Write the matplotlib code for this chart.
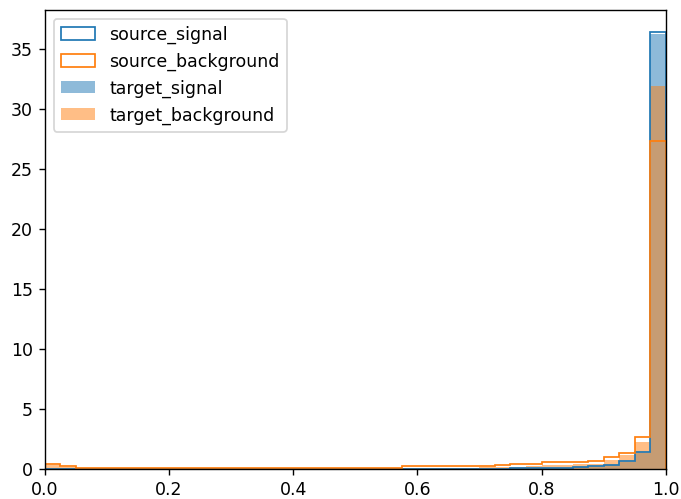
import numpy as np
import matplotlib.pyplot as plt

# 40 equal bins over [0, 1], density per bin
edges = np.linspace(0, 1, 41)
centers = (edges[:-1] + edges[1:]) / 2

# bins 0.0 .. 0.55 (23 bins) then 0.575 .. 0.975 (17 bins)
source_signal = [0.0] * 30 + [0.07, 0.08, 0.10, 0.12, 0.15, 0.23, 0.36, 0.65, 1.40, 36.4]
source_background = ([0.41, 0.25] + [0.05] * 21 +
                     [0.22, 0.22, 0.22, 0.22, 0.22, 0.25, 0.30, 0.41,
                      0.41, 0.55, 0.55, 0.62, 0.63, 1.04, 1.37, 2.69, 27.3])
target_signal = [0.0] * 30 + [0.05, 0.07, 0.09, 0.11, 0.14, 0.21, 0.33, 0.60, 1.35, 36.2]
target_background = ([0.30, 0.15] + [0.04] * 21 +
                     [0.12, 0.12, 0.12, 0.12, 0.12, 0.13, 0.15, 0.20,
                      0.25, 0.30, 0.35, 0.40, 0.44, 0.77, 1.13, 2.28, 31.9])

fig, ax = plt.subplots(figsize=(681 / 125, 499 / 125), dpi=125)
fig.subplots_adjust(left=0.066, right=0.9775, top=0.98, bottom=0.06)

ax.hist(centers, bins=edges, weights=source_signal, histtype="step",
        color="C0", label="source_signal")
ax.hist(centers, bins=edges, weights=source_background, histtype="step",
        color="C1", label="source_background")
ax.hist(centers, bins=edges, weights=target_signal, alpha=0.5,
        color="C0", label="target_signal")
ax.hist(centers, bins=edges, weights=target_background, alpha=0.5,
        color="C1", label="target_background")

ax.set_xlim(0, 1)
ax.legend(loc="upper left")

fig.savefig("out.png")
